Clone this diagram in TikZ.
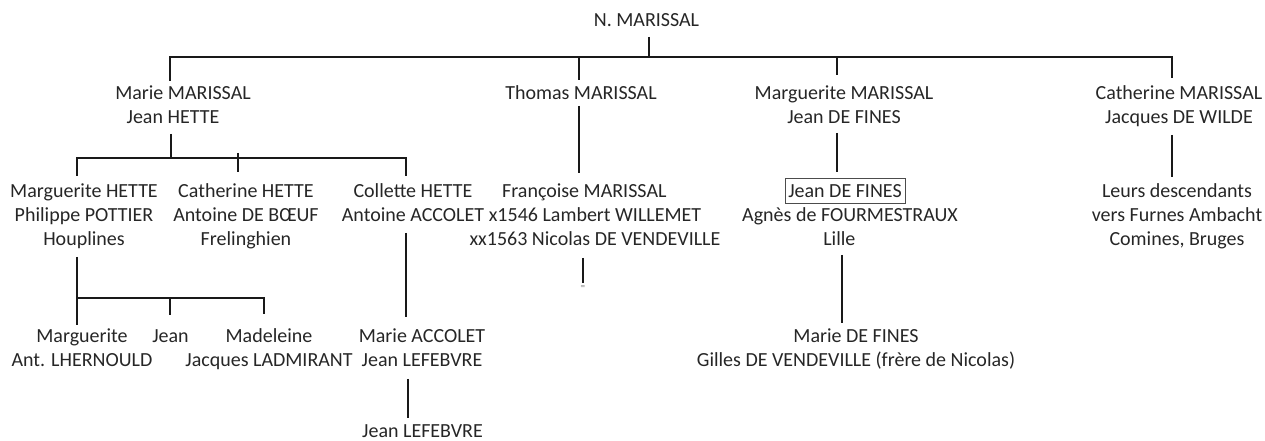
\documentclass[tikz,border=0pt]{standalone}
\usepackage{fontspec}
\setmainfont{Carlito}
\tikzset{
  person/.style={align=center, inner sep=0pt, anchor=base, text=black!85,
    font=\fontsize{15}{18}\selectfont},
  link/.style={line width=1.4pt, black!90},
}

\begin{document}
\begin{tikzpicture}[x=0.75pt, y=-0.75pt]
\useasboundingbox (0,0) rectangle (1265,441);

% people (placed at the baseline of their last line)
\node[person] (nmar) at (646.5,27) {N. MARISSAL};
\node[person] (marie) at (173,124) {\hspace*{15pt}Marie MARISSAL\\Jean HETTE};
\node[person] (thomas) at (581,100) {Thomas MARISSAL};
\node[person] (margm) at (844,124) {Marguerite MARISSAL\\Jean DE FINES};
\node[person] (cathm) at (1179,124) {Catherine MARISSAL\\Jacques DE WILDE};

\node[person] (margh) at (84,246) {Marguerite HETTE\\Philippe POTTIER\\Houplines};
\node[person] (cathh) at (246,246) {Catherine HETTE\\Antoine DE BŒUF\\Frelinghien};
\node[person] (collh) at (413,222) {Collette HETTE\\Antoine ACCOLET};
\node[person] (franc) at (595,246) {Françoise MARISSAL\hspace*{16pt}\\x1546 Lambert WILLEMET\\xx1563 Nicolas DE VENDEVILLE};
\node[person, draw=black!70, line width=0.6pt, inner xsep=2.5pt, inner ysep=0pt,
  text height=15pt, text depth=3.75pt] (jdf) at (845,198) {Jean DE FINES};
\node[person] (agnes) at (850,246) {Agnès de FOURMESTRAUX\\Lille\hspace*{16pt}};
\node[person] (leurs) at (1177,246) {Leurs descendants\\vers Furnes Ambacht\\Comines, Bruges};

\node[person] (margl) at (82,367) {Marguerite\\Ant. LHERNOULD};
\node[person] (jean) at (170.5,343) {Jean};
\node[person] (madel) at (269,367) {Madeleine\\Jacques LADMIRANT};
\node[person] (mariea) at (422,367) {Marie ACCOLET\\Jean LEFEBVRE};
\node[person] (mariedf) at (856,367) {Marie DE FINES\\Gilles DE VENDEVILLE (frère de Nicolas)};
\node[person] (jeanl) at (422.5,437.5) {Jean LEFEBVRE};
\node[inner sep=0pt, text=black!45, font=\fontsize{7}{7}\selectfont] (eq) at (583,288) {=};

% line ends
\coordinate (n0) at (649,37);   \coordinate (n1) at (649,57);
\coordinate (c1) at (170,81);   \coordinate (c2) at (579,80);
\coordinate (c3) at (837,75);   \coordinate (c4) at (1172,78);
\coordinate (h0) at (171,134);  \coordinate (h1) at (171,158);
\coordinate (h2) at (77,176);   \coordinate (h3) at (406,176);
\coordinate (h4) at (238,153);  \coordinate (h5) at (238,172);
\coordinate (p0) at (77,257);   \coordinate (p1) at (77,325);
\coordinate (pb) at (77,298);
\coordinate (p2) at (170,315);  \coordinate (p3) at (264,314);
\coordinate (t0) at (579,106);  \coordinate (t1) at (579,173);
\coordinate (f0) at (583,258);  \coordinate (f1) at (583,283);
\coordinate (m0) at (837,133);  \coordinate (m1) at (837,172);
\coordinate (w0) at (1172,135); \coordinate (w1) at (1172,177);
\coordinate (a0) at (406,233);  \coordinate (a1) at (406,317);
\coordinate (a2) at (408,379);  \coordinate (a3) at (408,418);
\coordinate (l0) at (842,255);  \coordinate (l1) at (842,323);

% links
\draw[link] (n0) -- (n1);
\draw[link] (c1) |- (n1) -| (c4);
\draw[link] (c2) -- (c2 |- n1) (c3) -- (c3 |- n1);
\draw[link] (h0) -- (h1);
\draw[link] (h2) |- (h1) -| (h3);
\draw[link] (h4) -- (h5);
\draw[link] (p0) -- (p1);
\draw[link] (p3) |- (pb);
\draw[link] (p2) -- (p2 |- pb);
\draw[link] (t0) -- (t1);
\draw[link] (f0) -- (f1);
\draw[link] (m0) -- (m1);
\draw[link] (w0) -- (w1);
\draw[link] (a0) -- (a1);
\draw[link] (a2) -- (a3);
\draw[link] (l0) -- (l1);
\end{tikzpicture}
\end{document}
